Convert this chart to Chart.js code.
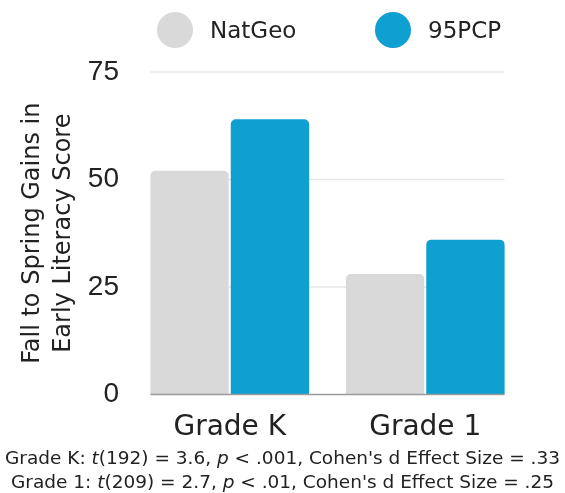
<!DOCTYPE html>
<html>
<head>
<meta charset="utf-8">
<script src="https://cdn.jsdelivr.net/npm/chart.js@4.4.0/dist/chart.umd.min.js"></script>
<style>
  body { margin: 0; background: #fff; width: 565px; height: 493px; overflow: hidden; position: relative; font-family: "DejaVu Sans", sans-serif; color: #222; }
  #chartGains { position: absolute; left: 0; top: 0; }
  .item { position: absolute; top: 12px; display: flex; align-items: center; font-size: 23px; line-height: 36px; }
  .dot { width: 36px; height: 36px; border-radius: 50%; margin-right: 17px; }
  #note { position: absolute; left: 0; top: 446px; width: 565px; text-align: center; font-size: 18.5px; line-height: 24px; white-space: nowrap; }
</style>
</head>
<body>
<canvas id="chartGains" width="565" height="456"></canvas>
<div id="legend"></div>
<div id="note">
  <div>Grade K: <i>t</i>(192) = 3.6, <i>p</i> &lt; .001, Cohen's d Effect Size = .33</div>
  <div>Grade 1: <i>t</i>(209) = 2.7, <i>p</i> &lt; .01, Cohen's d Effect Size = .25</div>
</div>
<script>
const categories = ['Grade K', 'Grade 1'];
const seriesNames = ['NatGeo', '95PCP'];
const natGeo = [52, 28];
const pcp95 = [64, 36];
const yTicks = [0, 25, 50, 75];
const colors = ['#d9d9d9', '#0f9fd1'];

// legend (html)
const legendLeft = [157, 375];
const legend = document.getElementById('legend');
seriesNames.forEach((name, i) => {
    const el = document.createElement('div');
    el.className = 'item';
    el.style.left = legendLeft[i] + 'px';
    el.innerHTML = '<span class="dot" style="background:' + colors[i] + '"></span>' + name;
    legend.appendChild(el);
});

// grid lines only under the bars, plus the zero line
const barGrid = {
    id: 'barGrid',
    beforeDatasetsDraw(chart) {
        const ctx = chart.ctx;
        const y = chart.scales.y;
        const first = chart.getDatasetMeta(0).data[0];
        const last = chart.getDatasetMeta(1).data[1];
        const x0 = first.x - first.width / 2;
        const x1 = last.x + last.width / 2;
        ctx.save();
        ctx.strokeStyle = '#e6e6e6';
        ctx.lineWidth = 1.5;
        yTicks.forEach(v => {
            if (v === 0) return;
            const py = y.getPixelForValue(v);
            ctx.beginPath();
            ctx.moveTo(x0, py);
            ctx.lineTo(x1, py);
            ctx.stroke();
        });
        ctx.restore();
    },
    afterDatasetsDraw(chart) {
        const ctx = chart.ctx;
        const y = chart.scales.y;
        const first = chart.getDatasetMeta(0).data[0];
        const last = chart.getDatasetMeta(1).data[1];
        const py = y.getPixelForValue(0);
        ctx.save();
        ctx.strokeStyle = '#9a9a9a';
        ctx.lineWidth = 1.5;
        ctx.beginPath();
        ctx.moveTo(first.x - first.width / 2, py);
        ctx.lineTo(last.x + last.width / 2, py);
        ctx.stroke();
        ctx.restore();
    }
};

const barStyle = {
    borderRadius: { topLeft: 5, topRight: 5 },
    borderSkipped: 'start',
    categoryPercentage: 0.822,
    barPercentage: 0.975
};

const ctx = document.getElementById('chartGains').getContext('2d');
const chart = new Chart(ctx, {
    type: 'bar',
    data: {
        labels: categories,
        datasets: [
            Object.assign({ label: seriesNames[0], data: natGeo, backgroundColor: colors[0] }, barStyle),
            Object.assign({ label: seriesNames[1], data: pcp95, backgroundColor: colors[1] }, barStyle)
        ]
    },
    options: {
        responsive: false,
        animation: false,
        layout: { padding: { top: 72, right: 42, bottom: 2, left: 0 } },
        plugins: {
            legend: { display: false },
            tooltip: { enabled: false }
        },
        scales: {
            x: {
                grid: { display: false },
                border: { display: false },
                ticks: { color: '#222', padding: 9, font: { family: 'DejaVu Sans', size: 28 } }
            },
            y: {
                min: 0,
                max: 75,
                afterFit(scale) { scale.width = 132; },
                afterBuildTicks(scale) { scale.ticks = yTicks.map(v => ({ value: v })); },
                grid: { display: false },
                border: { display: false },
                ticks: { color: '#222', padding: 5, font: { family: 'Liberation Sans', size: 28 } },
                title: {
                    display: true,
                    text: ['Fall to Spring Gains in', 'Early Literacy Score'],
                    color: '#222',
                    padding: { top: 17, bottom: 0 },
                    font: { family: 'DejaVu Sans', size: 24, lineHeight: 1.3 }
                }
            }
        }
    },
    plugins: [barGrid]
});
</script>
</body>
</html>
